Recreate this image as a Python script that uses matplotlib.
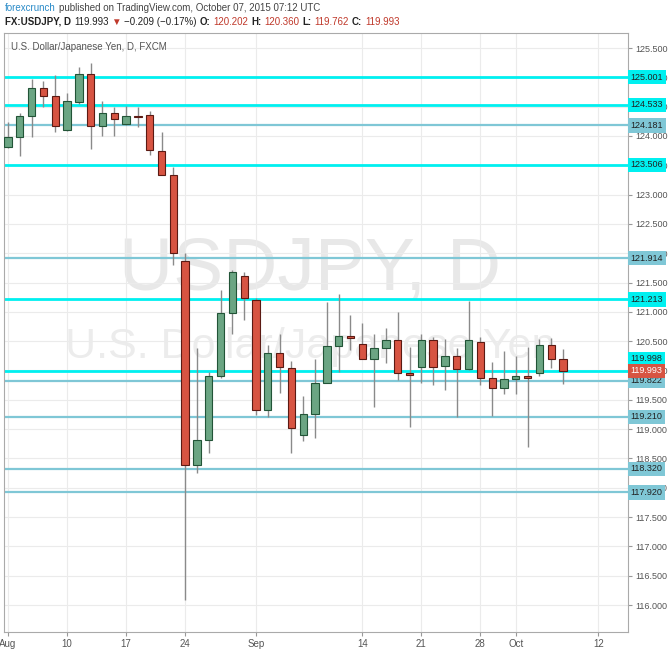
import matplotlib
matplotlib.use("Agg")
import matplotlib.pyplot as plt
from matplotlib.patches import Rectangle

opens  = [123.82,123.99,124.34,124.81,124.69,124.10,124.58,125.05,124.17,124.39,124.20,124.34,124.35,123.75,123.33,121.87,118.39,118.81,119.91,120.98,121.61,121.20,119.33,120.30,120.05,118.90,119.26,119.79,120.42,120.58,120.46,120.20,120.38,120.52,119.96,120.06,120.52,120.08,120.24,120.03,120.49,119.88,119.70,119.85,119.91,119.96,120.43,120.202]
highs  = [124.24,124.40,124.97,124.93,125.04,124.74,125.17,125.24,124.59,124.50,124.51,124.50,124.42,124.06,123.47,122.00,120.38,119.98,121.37,121.72,121.68,121.24,120.44,120.63,120.17,119.56,120.20,121.17,121.30,120.95,120.81,120.62,120.73,121.00,120.40,120.63,120.57,120.53,120.38,121.19,120.57,120.14,120.33,120.25,120.40,120.53,120.55,120.360]
lows   = [123.80,123.65,123.99,124.49,124.07,124.08,124.55,123.77,124.00,124.00,124.18,124.15,123.68,123.33,121.80,116.08,118.25,118.60,119.88,120.63,120.86,119.24,119.21,119.62,118.59,118.79,118.85,119.79,119.98,120.35,120.20,119.38,120.13,119.84,119.04,119.78,119.76,119.67,119.20,120.00,119.76,119.22,119.60,119.60,118.69,119.90,120.05,119.762]
closes = [123.99,124.34,124.81,124.69,124.17,124.59,125.05,124.17,124.39,124.29,124.34,124.33,123.76,123.33,122.00,118.39,118.81,119.91,120.98,121.68,121.24,119.33,120.30,120.06,119.02,119.26,119.79,120.42,120.58,120.56,120.20,120.38,120.52,119.96,119.92,120.52,120.06,120.25,120.03,120.52,119.88,119.70,119.85,119.91,119.87,120.43,120.19,119.993]

bright_levels = [125.001, 124.533, 123.506, 121.213, 119.998]
soft_levels = [124.181, 121.914, 119.822, 119.210, 118.320, 117.920]
xtick_pos = [0, 5, 10, 15, 21, 30, 35, 40, 43, 50]
xtick_lab = ["Aug", "10", "17", "24", "Sep", "14", "21", "28", "Oct", "12"]
ytick_vals = [116 + 0.5 * i for i in range(20)]

plt.rcParams['font.family'] = ['Liberation Sans', 'DejaVu Sans']
BRIGHT = "#00f0f0"; SOFT = "#7fc7d6"
fig = plt.figure(figsize=(6.7, 6.52), dpi=100)
ax = fig.add_axes([4/670, 20/652, 624/670, 599/652])
ax.set_xlim(-0.34, 52.5)
ax.set_ylim(115.54, 125.756)
ax.set_xticks(xtick_pos)
ax.set_xticklabels(xtick_lab, fontsize=7, color="#555555")
ax.set_yticks(ytick_vals)
ax.set_yticklabels([f"{v:.3f}" for v in ytick_vals], fontsize=6.5, color="#555555")
ax.yaxis.tick_right()
ax.tick_params(axis="both", length=3, color="#999999", pad=2)
ax.grid(True, color="#ebebeb", lw=0.8)
ax.set_axisbelow(True)
for s in ax.spines.values():
    s.set_color("#aaaaaa")

ax.text(0.49, 0.605, "USDJPY, D", transform=ax.transAxes, ha="center", va="center",
        fontsize=54, color="#e8e8e8", zorder=0)
ax.text(0.49, 0.475, "U.S. Dollar/Japanese Yen", transform=ax.transAxes, ha="center", va="center",
        fontsize=31, color="#ececec", zorder=0)

for lv in soft_levels:
    ax.axhline(lv, color=SOFT, lw=1.6, zorder=1)
for lv in bright_levels:
    ax.axhline(lv, color=BRIGHT, lw=2, zorder=1)

w = 0.62
for i, (o, h, l, c) in enumerate(zip(opens, highs, lows, closes)):
    up = c >= o
    fc = "#6ba583" if up else "#d75442"
    ec = "#225437" if up else "#5b1a13"
    ax.vlines(i, l, h, color="#8a8a8a", lw=1, zorder=2)
    ax.add_patch(Rectangle((i - w/2, min(o, c)), w, max(abs(c - o), 0.015),
                           facecolor=fc, edgecolor=ec, lw=0.8, zorder=3))

def label(v, bg, fg="#222222", pos=None):
    ax.text(1.004, v if pos is None else pos, f"{v:.3f}", transform=ax.get_yaxis_transform(),
            va="center", ha="left", fontsize=6.5, color=fg,
            bbox=dict(boxstyle="square,pad=0.3", fc=bg, ec="none"), zorder=5, clip_on=False)
for lv in soft_levels:
    label(lv, SOFT)
for lv in bright_levels:
    label(lv, BRIGHT, pos=120.20 if lv == 119.998 else None)
label(closes[-1], "#d75442", "white")

ax.text(0.012, 0.985, "U.S. Dollar/Japanese Yen, D, FXCM", transform=ax.transAxes, va="top",
        fontsize=7, color="#555555")

def chain(y, parts):
    x = 5 / 670
    r = fig.canvas.get_renderer()
    for txt, col, bold in parts:
        t = fig.text(x, 1 - y / 652, txt, color=col, fontsize=7, va="center",
                     fontweight="bold" if bold else "normal")
        bb = t.get_window_extent(renderer=r)
        x = (bb.x1 + 3) / 670

chain(8, [("forexcrunch", "#2a8bc8", False),
          ("published on TradingView.com, October 07, 2015 07:12 UTC", "#444444", False)])
chain(22, [("FX:USDJPY, D", "#222222", True), ("119.993", "#222222", False),
           ("\u25bc", "#c0392b", False), ("\u22120.209 (\u22120.17%)", "#222222", False),
           ("O:", "#222222", True), ("120.202", "#c0392b", False),
           ("H:", "#222222", True), ("120.360", "#c0392b", False),
           ("L:", "#222222", True), ("119.762", "#c0392b", False),
           ("C:", "#222222", True), ("119.993", "#c0392b", False)])

fig.savefig("out.png", dpi=100)
